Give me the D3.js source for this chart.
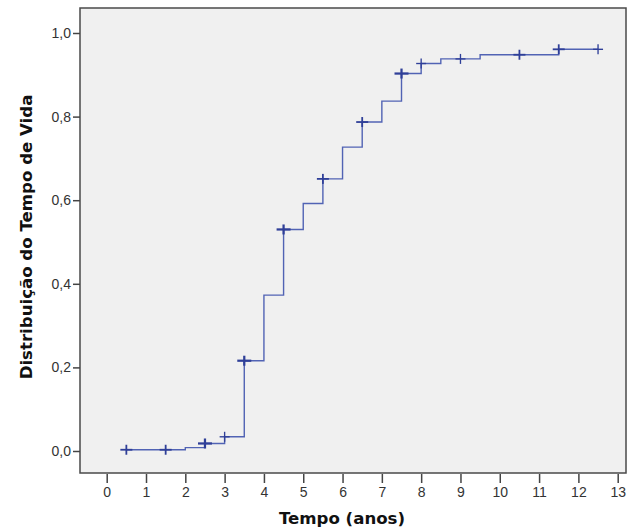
<!doctype html>
<html lang="pt">
<head>
    <meta charset="utf-8">
    <title>Distribuição do Tempo de Vida</title>
    <script src="https://d3js.org/d3.v7.min.js"></script>
    <style type="text/css">
        body { margin: 0; background: #fff; }
        text { font-family: "Liberation Sans", Arial, sans-serif; }
    </style>
</head>

<body>
</body>

<script type="text/javascript">

    // step times (anos) and cumulative distribution after each step
    var stepTimes  = [0.5, 2, 2.5, 3, 3.5, 4, 4.5, 5, 5.5, 6, 6.5, 7, 7.5, 8, 8.5, 9.5, 11.5];
    var stepValues = [0.003, 0.008, 0.018, 0.034, 0.216, 0.373, 0.530, 0.592, 0.651, 0.727, 0.787, 0.837, 0.903, 0.927, 0.938, 0.948, 0.961];
    var lastTime   = 12.5;

    // censored observations (+) and how heavy each mark looks
    var censorTimes  = [0.5, 1.5, 2.5, 3, 3.5, 4.5, 5.5, 6.5, 7.5, 8, 9, 10.5, 11.5, 12.5];
    var censorCounts = [2, 2, 3, 1, 3, 3, 2, 2, 3, 1, 1, 2, 2, 1];

    var xTicks = d3.range(0, 14);
    var yTicks = [0, 0.2, 0.4, 0.6, 0.8, 1.0];

    var width  = 641;
    var height = 529;

    var frame = {left: 80, top: 8, right: 626, bottom: 473};

    var xScale = d3.scaleLinear()
                 .domain([0, 13])
                 .range([106.7, 617.7]);

    var yScale = d3.scaleLinear()
                 .domain([0, 1])
                 .range([451, 33]);

    var fmt = (d)=>d3.format(".1f")(d).replace(".", ",");

    var svg = d3.select("body")
                .append("svg")
                .attr("width", width)
                .attr("height", height);

    svg.append("rect")
       .attr("x", frame.left)
       .attr("y", frame.top)
       .attr("width", frame.right - frame.left)
       .attr("height", frame.bottom - frame.top)
       .style("fill", "#f0f0f0")
       .style("stroke", "#4a4a4a")
       .style("stroke-width", 1.5);

    // x axis below the frame
    var xAxis = d3.axisBottom(xScale)
                  .tickValues(xTicks)
                  .tickSize(9)
                  .tickPadding(4)
                  .tickSizeOuter(0);

    var gx = svg.append("g")
                .attr("transform", "translate(0," + (frame.bottom + 1) + ")")
                .call(xAxis);
    gx.select(".domain").remove();
    gx.selectAll("line").style("stroke", "#444").style("stroke-width", 1.5);
    gx.selectAll("text").style("font-size", "14px").style("fill", "#333");

    // y axis left of the frame
    var yAxis = d3.axisLeft(yScale)
                  .tickValues(yTicks)
                  .tickFormat(fmt)
                  .tickSize(7)
                  .tickPadding(2)
                  .tickSizeOuter(0);

    var gy = svg.append("g")
                .attr("transform", "translate(" + frame.left + ",0)")
                .call(yAxis);
    gy.select(".domain").remove();
    gy.selectAll("line").style("stroke", "#444").style("stroke-width", 1.5);
    gy.selectAll("text").style("font-size", "14px").style("fill", "#333");

    // step curve
    var pts = stepTimes.map((t, i)=>[t, stepValues[i]]);
    pts.push([lastTime, stepValues[stepValues.length - 1]]);

    var line = d3.line()
                 .x((d)=>xScale(d[0]))
                 .y((d)=>yScale(d[1]))
                 .curve(d3.curveStepAfter);

    svg.append("path")
       .datum(pts)
       .attr("d", line)
       .style("fill", "none")
       .style("stroke", "#5163b4")
       .style("stroke-width", 1.4);

    // value of the curve at a time
    function stepAt(t) {
        var v = 0;
        stepTimes.forEach((s, i)=>{ if (s <= t) v = stepValues[i]; });
        return v;
    }

    var marks = svg.selectAll("g.censor")
                   .data(censorTimes)
                   .enter()
                   .append("g")
                   .attr("class", "censor")
                   .attr("transform", (d)=>"translate(" + xScale(d) + "," + yScale(stepAt(d)) + ")")
                   .style("stroke", "#2f3f98")
                   .style("stroke-width", (d, i)=>0.9 + 0.45 * censorCounts[i]);

    marks.append("line")
         .attr("x1", 0).attr("x2", 0)
         .attr("y1", -5).attr("y2", 5);

    marks.append("line")
         .attr("x1", (d, i)=>-4 - censorCounts[i])
         .attr("x2", (d, i)=>4 + censorCounts[i])
         .attr("y1", 0).attr("y2", 0);

    // axis titles
    svg.append("text")
       .text("Tempo (anos)")
       .attr("x", 342)
       .attr("y", 524)
       .attr("text-anchor", "middle")
       .style("font-family", "'DejaVu Sans', sans-serif")
       .style("font-size", "16.6px")
       .style("font-weight", "bold")
       .style("fill", "#111");

    svg.append("text")
       .text("Distribuição do Tempo de Vida")
       .attr("transform", "translate(32,237) rotate(-90)")
       .attr("text-anchor", "middle")
       .style("font-family", "'DejaVu Sans', sans-serif")
       .style("font-size", "16.6px")
       .style("font-weight", "bold")
       .style("fill", "#111");

</script>

</html>
